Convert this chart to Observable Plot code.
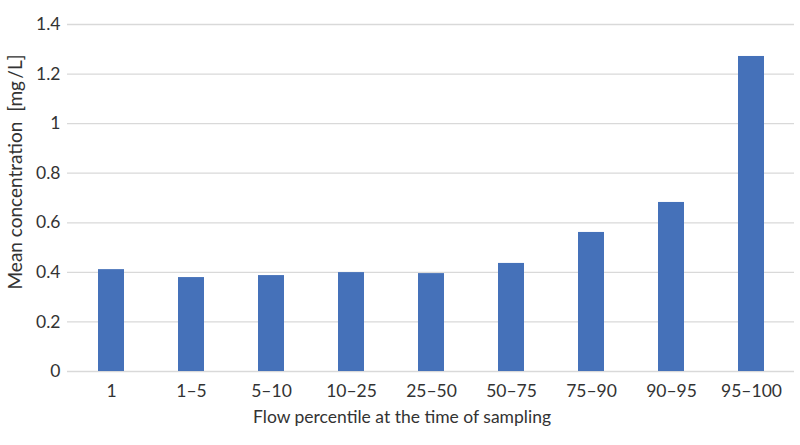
<!DOCTYPE html>
<html><head><meta charset="utf-8">
<script src="https://cdn.jsdelivr.net/npm/d3@7"></script>
<script src="https://cdn.jsdelivr.net/npm/@observablehq/plot@0.6"></script>
<style>body{margin:0;background:#fff;} svg{display:block;}</style>
</head><body><div id="chart"></div>
<script>
const categories = ["1","1–5","5–10","10–25","25–50","50–75","75–90","90–95","95–100"];
const values = [0.411, 0.379, 0.387, 0.399, 0.395, 0.436, 0.561, 0.682, 1.271];
const yTicks = [0, 0.2, 0.4, 0.6, 0.8, 1, 1.2, 1.4];
const xLabel = "Flow percentile at the time of sampling";
const yLabel = "Mean concentration \u00a0[mg\u2009/L]";

const data = categories.map((c, i) => ({cat: c, value: values[i]}));
const font = "Lato, 'Open Sans', sans-serif";
const fs = 17.5;
const chart = Plot.plot({
  width: 800, height: 445,
  marginLeft: 67, marginRight: 6, marginTop: 24, marginBottom: 74,
  style: {fontFamily: font, fontSize: fs + "px", color: "#333", background: "#fff"},
  x: {domain: categories, paddingInner: 0.68, paddingOuter: 0.34, label: null},
  y: {domain: [0, 1.4], label: null},
  marks: [
    Plot.ruleY(yTicks, {stroke: "#d9d9d9", strokeWidth: 1.3}),
    Plot.barY(data, {x: "cat", y: "value", fill: "#4571b9"}),
    Plot.axisY(yTicks, {tickSize: 0, tickPadding: 7, fontSize: fs, fill: "#333", tickFormat: d => String(d), label: null}),
    Plot.axisX({tickSize: 0, tickPadding: 13, fontSize: fs, fill: "#333", label: null}),
    Plot.text([xLabel], {frameAnchor: "bottom", dx: -29, dy: 51, fontSize: fs, fill: "#333"}),
    Plot.text([yLabel], {frameAnchor: "left", textAnchor: "middle", dx: -52, dy: -26, rotate: -90, fontSize: 19, fill: "#333"})
  ]
});
document.getElementById("chart").append(chart);
</script></body></html>
